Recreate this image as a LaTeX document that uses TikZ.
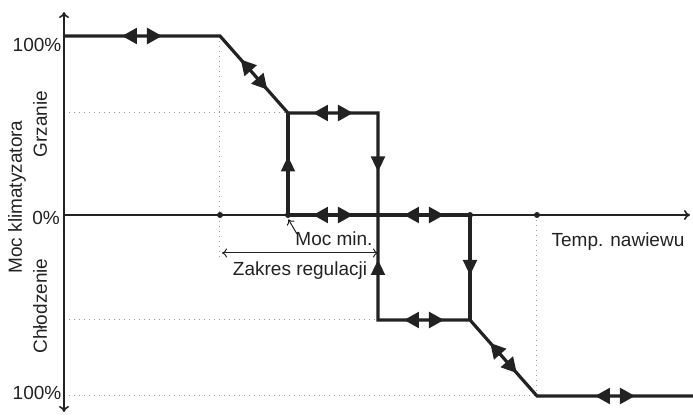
\documentclass[tikz,border=0pt]{standalone}
\usepackage{fontspec}
\setmainfont{Liberation Sans}
\usetikzlibrary{positioning, calc, arrows.meta}
\definecolor{ink}{HTML}{222222}
\definecolor{guide}{HTML}{9A9A9A}
% arrow marks placed at the middle of a segment
\newcommand{\twoway}[2]{\draw [twowaytip] ($(#1)!0.5!(#2)!10pt!(#1)$) -- ($(#1)!0.5!(#2)!10pt!(#2)$);}
\newcommand{\oneway}[2]{\draw [onewaytip] ($(#1)!0.5!(#2)!3.75pt!(#1)$) -- ($(#1)!0.5!(#2)!3.75pt!(#2)$);}

\begin{document}
\begin{tikzpicture}[x = 0.5pt, y = -0.5pt, ink, font = \fontsize{9.5}{11}\selectfont,
  axis/.style = {line width = 0.8pt},
  curve/.style = {line width = 1.6pt, line join = miter},
  guideline/.style = {guide, dotted, line width = 0.5pt},
  twowaytip/.style = {line width = 1.2pt, {Triangle[length = 7.5pt, width = 8pt]}-{Triangle[length = 7.5pt, width = 8pt]}},
  onewaytip/.style = {line width = 1.2pt, -{Triangle[length = 7.5pt, width = 7pt]}},
  note/.style = {line width = 0.5pt},
  dot/.style = {circle, fill = ink, inner sep = 0pt, minimum size = 3pt}]
  \useasboundingbox (0,0) rectangle (693,416);

  % points of the characteristic
  \coordinate (ytop) at (64,12);
  \coordinate (ybot) at (64,412);
  \coordinate (origin) at (64,215);
  \coordinate (xend) at (690,215);
  \coordinate (heatstart) at (64,36);
  \coordinate (heatknee) at (220,36);
  \coordinate (heatmid) at (288,113);
  \coordinate (heatturn) at (378,113);
  \coordinate (crossing) at (378,215);
  \coordinate (coolturn) at (378,320);
  \coordinate (coolmid) at (470,320);
  \coordinate (coolknee) at (537,396);
  \coordinate (coolend) at (693,396);
  \coordinate (minleft) at (288,215);
  \coordinate (minright) at (470,215);
  \coordinate (rangeleft) at (222,253);
  \coordinate (rangeright) at (378,253);
  \coordinate (mintail) at (297,234);

  % guides
  \draw [guideline] (heatknee) -- (220,260);
  \draw [guideline] (64,113) -- (heatmid);
  \draw [guideline] (64,320) -- (coolturn);
  \draw [guideline] (64,396) -- (coolknee);
  \draw [guideline] (537,215) -- (coolknee);

  % axes
  \draw [axis, {To[length = 3pt, width = 5pt]}-{To[length = 3pt, width = 5pt]}] (ybot) -- (ytop);
  \draw [axis, -{To[length = 3pt, width = 5pt]}] (origin) -- (xend);

  % nodes
  \node [dot] (kneedot) at (220,215) {};
  \node [dot] (mindot) at (minleft) {};
  \node [dot] (rightdot) at (minright) {};
  \node [dot] (kneedot2) at (537,215) {};
  \node (top) at (37,45) {100\%};
  \node (zero) at (46,218) {0\%};
  \node (bottom) at (37,393) {100\%};
  \node [rotate = 90] (power) at (17,197) {Moc klimatyzatora};
  \node [rotate = 90] (heating) at (40,124) {Grzanie};
  \node [rotate = 90] (cooling) at (40,306) {Chłodzenie};
  \node (mocmin) at (334,239) {Moc min.};
  \node (range) at (300,271) {Zakres regulacji};
  \node (temp) at (618,242) {Temp. nawiewu};

  % edges
  \draw [curve] (heatstart) -- (heatknee) -- (heatmid) -- (heatturn) -- (coolturn)
    -- (coolmid) -- (coolknee) -- (coolend);
  \draw [curve] (heatmid) -- (minleft) -- (minright) -- (coolmid);
  \twoway{heatstart}{heatknee}
  \twoway{heatknee}{heatmid}
  \twoway{heatmid}{heatturn}
  \twoway{minleft}{crossing}
  \twoway{crossing}{minright}
  \twoway{coolturn}{coolmid}
  \twoway{coolmid}{coolknee}
  \twoway{coolknee}{coolend}
  \oneway{minleft}{heatmid}
  \oneway{heatturn}{crossing}
  \oneway{coolturn}{crossing}
  \oneway{minright}{coolmid}
  \draw [note, -{To[length = 2.5pt, width = 4.5pt]}] (mintail) -- ([shift = {(-1pt,-1pt)}] mindot.south east);
  \draw [note, {To[length = 2.5pt, width = 4.5pt]}-{To[length = 2.5pt, width = 4.5pt]}] (rangeleft) -- (rangeright);
\end{tikzpicture}
\end{document}
